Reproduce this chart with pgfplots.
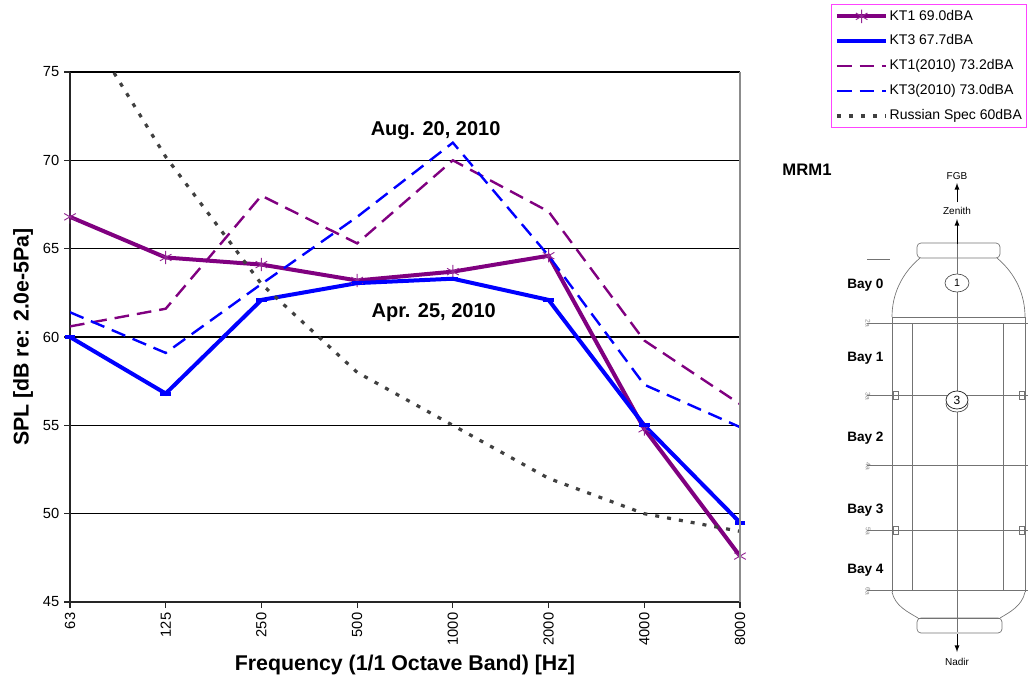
\documentclass[border=0pt]{standalone}
\usepackage{fontspec}
\setmainfont{Liberation Sans}
\usepackage{pgfplots}
\pgfplotsset{compat=1.18}
\definecolor{kpurple}{HTML}{800080}
\definecolor{kblue}{HTML}{0000FF}
\definecolor{kgray}{HTML}{404040}
\definecolor{lborder}{HTML}{FF44FF}
\begin{document}
\begin{tikzpicture}
\path[use as bounding box] (0,0) rectangle (775.5pt,515.25pt);
\begin{axis}[
  at={(52.5pt,63.75pt)}, anchor=south west,
  scale only axis, width=502.5pt, height=397.5pt,
  xmin=0, xmax=7, ymin=45, ymax=75,
  xtick={0,...,7},
  xticklabels={63,125,250,500,1000,2000,4000,8000},
  ytick={45,50,...,75},
  /pgf/number format/assume math mode=true,
  x tick label style={rotate=90, anchor=east, font=\fontsize{11}{13}\selectfont},
  y tick label style={font=\fontsize{11}{13}\selectfont},
  ymajorgrids, major grid style={black, line width=0.8pt},
  axis x line*=bottom, axis y line*=left,
  axis line style={-, black!85, line width=1pt},
  tick style={black!85, line width=0.8pt}, tick align=outside, major tick length=4.5pt,
  xlabel={\bfseries Frequency (1/1 Octave Band) [Hz]},
  ylabel={\bfseries SPL [dB re: 2.0e-5Pa]},
  xlabel style={at={(axis description cs:0.5,-0.119)}, anchor=center, font=\fontsize{16}{19}\selectfont},
  ylabel style={at={(axis description cs:-0.07,0.5)}, anchor=center, font=\fontsize{16}{19}\selectfont},
  legend image code/.code={\draw[mark repeat=2,mark phase=2,#1] plot coordinates {(0cm,0cm) (0.65cm,0cm) (1.3cm,0cm)};},
  legend style={at={(axis description cs:1.136,1.128)}, anchor=north west,
    draw=lborder, line width=0.8pt, font=\fontsize{10.5}{12}\selectfont,
    inner sep=2.5pt, row sep=6.2pt,
    nodes={inner sep=1pt, text height=8pt, text depth=2.5pt},
    cells={anchor=west}},
  after end axis/.code={\draw[black!45, line width=0.8pt] (rel axis cs:1,0) -- (rel axis cs:1,1);},
]
\addplot[kpurple, line width=3pt, mark=asterisk, mark size=5pt,
  mark options={line width=0.7pt, color=kpurple!85}]
  coordinates {(0,66.8) (1,64.5) (2,64.1) (3,63.2) (4,63.7) (5,64.6) (6,54.8) (7,47.6)};
\addlegendentry{KT1 69.0dBA}
\addplot[kblue, line width=3pt, mark=-, mark size=4pt, mark options={line width=3pt}]
  coordinates {(0,60.0) (1,56.8) (2,62.1) (3,63.05) (4,63.3) (5,62.1) (6,55.0) (7,49.5)};
\addlegendentry{KT3 67.7dBA}
\addplot[kpurple, line width=1.8pt, dash pattern=on 11pt off 6pt]
  coordinates {(0,60.6) (1,61.6) (2,68.0) (3,65.3) (4,70.0) (5,67.1) (6,59.8) (7,56.2)};
\addlegendentry{KT1(2010) 73.2dBA}
\addplot[kblue, line width=1.8pt, dash pattern=on 11pt off 6pt]
  coordinates {(0,61.4) (1,59.1) (2,63.0) (3,66.8) (4,71.0) (5,64.6) (6,57.3) (7,54.9)};
\addlegendentry{KT3(2010) 73.0dBA}
\addplot[kgray, line width=2.4pt, dash pattern=on 3pt off 6pt]
  coordinates {(0,79.0) (1,70.2) (2,63.0) (3,58.0) (4,55.0) (5,52.0) (6,50.0) (7,49.0)};
\addlegendentry{Russian Spec 60dBA}
\node[font=\bfseries\fontsize{15}{18}\selectfont] at (axis cs:3.82,71.7) {Aug. 20, 2010};
\node[font=\bfseries\fontsize{15}{18}\selectfont] at (axis cs:3.80,61.4) {Apr. 25, 2010};
\end{axis}
% MRM1 schematic, pixel coordinates (y downward)
\begin{scope}[x=0.75pt, y=-0.75pt, shift={(0pt,515.25pt)}]
  \node[font=\bfseries\fontsize{12.5}{15}\selectfont] at (807,170) {MRM1};
  \begin{scope}[draw=black!55, line width=0.5pt]
    % top cap
    \draw[rounded corners=3pt] (917,243) rectangle (1000,258);
    % dome
    \draw (920,258) .. controls (901,274) and (892,295) .. (892,317);
    \draw (997,258) .. controls (1016,274) and (1025,295) .. (1025,317);
    % body
    \draw (892,317) -- (892,592);
    \draw (1025,317) -- (1025,592);
    \draw (892,317) -- (1025,317);
    \draw (912,323) -- (912,590);
    \draw (1003,323) -- (1003,590);
    % rings
    \foreach \yy in {323,395,465,530,590} {
      \draw (867,\yy) -- (1028,\yy);
    }
    \foreach \yy in {395,530} {
      \draw (893,\yy-4) rectangle (898,\yy+4);
      \draw (1019,\yy-4) rectangle (1024,\yy+4);
    }
    \draw (867,259) -- (890,259);
    % bottom taper and cap
    \draw (892,592) .. controls (895,606) and (908,612) .. (918,618);
    \draw (1025,592) .. controls (1022,606) and (1010,612) .. (1000,618);
    \draw (918,618) -- (1000,618);
    \draw[rounded corners=3pt] (917,618) rectangle (1002,633);
    % centre line
    \draw (957,232) -- (957,632);
  \end{scope}
  % circles
  \draw[black!70, line width=0.5pt, fill=white] (957,283) ellipse (12 and 9);
  \node[font=\fontsize{8}{9}\selectfont] at (957,283) {1};
  \draw[black!70, line width=0.5pt, fill=white] (957,404) ellipse (11 and 8);
  \draw[black!80, line width=0.6pt, fill=white] (957,400) ellipse (11 and 9);
  \node[font=\fontsize{9}{10}\selectfont] at (957,400) {3};
  % arrows and labels
  \draw[-latex, black, line width=0.7pt] (957,244) -- (957,219);
  \draw[-latex, black, line width=0.7pt] (957,202) -- (957,183);
  \draw[-latex, black, line width=0.7pt] (957,634) -- (957,652);
  \node[font=\fontsize{7.5}{9}\selectfont] at (957,176) {FGB};
  \node[font=\fontsize{7.5}{9}\selectfont] at (957,211) {Zenith};
  \node[font=\fontsize{7.5}{9}\selectfont] at (957,662) {Nadir};
  \foreach \yy/\lab in {285/Bay 0, 358/Bay 1, 438/Bay 2, 510/Bay 3, 570/Bay 4} {
    \node[anchor=west, font=\bfseries\fontsize{10.2}{12}\selectfont, inner sep=0pt] at (847,\yy) {\lab};
  }
  \foreach \yy/\lab in {323/2a, 396/3a, 466/4a, 531/5a, 591/6a} {
    \node[rotate=-90, font=\fontsize{5}{6}\selectfont, text=black!45, inner sep=0pt] at (868,\yy) {\lab};
  }
\end{scope}
\end{tikzpicture}
\end{document}
